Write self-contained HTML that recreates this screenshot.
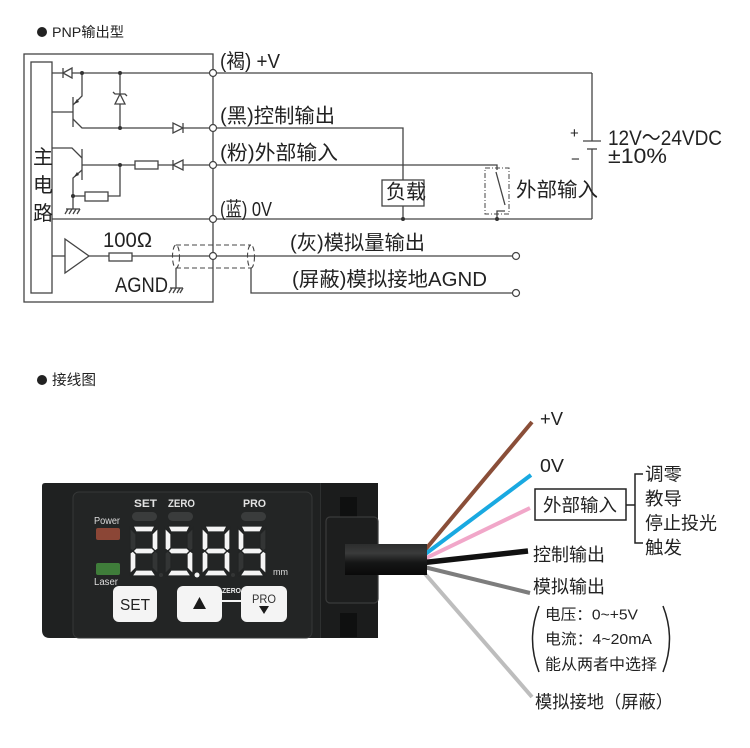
<!DOCTYPE html>
<html><head><meta charset="utf-8"><style>
html,body{margin:0;padding:0;background:#fff;}
svg{display:block;}
text{font-family:"Liberation Sans","Noto Sans CJK SC",sans-serif;}
</style></head><body>
<svg width="750" height="748" viewBox="0 0 750 748" xmlns="http://www.w3.org/2000/svg">
<defs>
<linearGradient id="cab" x1="0" y1="0" x2="0" y2="1">
<stop offset="0" stop-color="#2c2d2d"/><stop offset="0.3" stop-color="#3a3b3b"/><stop offset="0.6" stop-color="#151616"/><stop offset="1" stop-color="#0a0a0a"/>
</linearGradient>
</defs>
<rect width="750" height="748" fill="#fff"/>

<!-- Title 1 -->
<circle cx="42" cy="32" r="5" fill="#222"/>
<text x="52" y="37" font-size="14" fill="#222" textLength="72" lengthAdjust="spacingAndGlyphs">PNP输出型</text>

<!-- Schematic -->
<g stroke="#444" stroke-width="1.3" fill="none">
<rect x="24" y="54" width="189" height="248"/>
<rect x="31" y="62" width="21" height="231"/>
<!-- +V line -->
<line x1="52" y1="73" x2="592" y2="73"/>
<line x1="592" y1="73" x2="592" y2="141"/>
<line x1="592" y1="149" x2="592" y2="219"/>
<line x1="583" y1="141" x2="601" y2="141"/>
<line x1="587" y1="149" x2="597" y2="149"/>
<!-- diode on +V -->
<polygon points="63,73 72,68 72,78" fill="#fff"/>
<line x1="63" y1="68" x2="63" y2="78"/>
<!-- transistor 1 -->
<line x1="52" y1="112" x2="73" y2="112"/>
<line x1="73" y1="97" x2="73" y2="127"/>
<polyline points="73,105 82,96 82,73"/>
<polyline points="73,119 82,128 213,128"/>
<!-- zener -->
<line x1="120" y1="73" x2="120" y2="128"/>
<polygon points="120,94 115,104 125,104" fill="#fff"/>
<polyline points="113,92 115,94 125,94 127,96"/>
<!-- diode on black -->
<polygon points="173,123 173,133 183,128" fill="#fff"/>
<line x1="183" y1="123" x2="183" y2="133"/>
<!-- transistor 2 -->
<polyline points="52,148 72,148 82,158"/>
<line x1="82" y1="149" x2="82" y2="180"/>
<line x1="82" y1="165" x2="213" y2="165"/>
<polyline points="82,170 73,178 73,209"/>
<line x1="73" y1="196" x2="85" y2="196"/>
<rect x="85" y="192" width="23" height="9" fill="#fff"/>
<polyline points="108,196 120,196 120,165"/>
<rect x="135" y="161" width="23" height="8" fill="#fff"/>
<polygon points="173,165 183,160 183,170" fill="#fff"/>
<line x1="173" y1="160" x2="173" y2="170"/>
<!-- ground 1 -->
<line x1="66" y1="209" x2="80" y2="209"/>
<path d="M68,209 L65,214 M72,209 L69,214 M76,209 L73,214 M80,209 L77,214"/>
<!-- 0V -->
<line x1="52" y1="219" x2="592" y2="219"/>
<!-- load -->
<polyline points="213,128 403,128 403,180"/>
<rect x="382" y="180" width="42" height="26" fill="#fff"/>
<line x1="403" y1="206" x2="403" y2="219"/>
<!-- switch -->
<polyline points="213,165 497,165 497,170"/>
<line x1="496" y1="172" x2="505" y2="205"/>
<polyline points="505,211 497,211 497,219"/>
<rect x="485" y="168" width="24" height="46" stroke-dasharray="5,2,1,2" stroke-width="1"/>
<!-- amplifier -->
<line x1="52" y1="256" x2="65" y2="256"/>
<polygon points="65,239 65,273 89,256" fill="#fff"/>
<line x1="89" y1="256" x2="109" y2="256"/>
<rect x="109" y="253" width="23" height="8" fill="#fff"/>
<line x1="132" y1="256" x2="516" y2="256"/>
<!-- shield -->
<g stroke-dasharray="5,3" stroke-width="1.1">
<line x1="176" y1="245" x2="251" y2="245"/>
<line x1="176" y1="268" x2="251" y2="268"/>
<ellipse cx="176" cy="256.5" rx="3.5" ry="11.5"/>
<ellipse cx="251" cy="256.5" rx="3.5" ry="11.5"/>
</g>
<line x1="176" y1="268" x2="176" y2="288"/>
<line x1="170" y1="288" x2="183" y2="288"/>
<path d="M172,288 L169,293 M176,288 L173,293 M180,288 L177,293 M183,288 L180,293"/>
<polyline points="251,268 251,293 516,293"/>
</g>
<!-- dots -->
<g fill="#333">
<circle cx="82" cy="73" r="2"/><circle cx="120" cy="73" r="2"/>
<circle cx="120" cy="128" r="2"/><circle cx="120" cy="165" r="2"/>
<circle cx="73" cy="196" r="2"/><circle cx="403" cy="219" r="2"/>
<circle cx="497" cy="219" r="2"/>
<polygon points="74,104 79,102 77,99"/>
<polygon points="74,177 79,175 77,172"/>
</g>
<!-- terminals -->
<g fill="#fff" stroke="#444" stroke-width="1.2">
<circle cx="213" cy="73" r="3.5"/><circle cx="213" cy="128" r="3.5"/>
<circle cx="213" cy="165" r="3.5"/><circle cx="213" cy="219" r="3.5"/>
<circle cx="213" cy="256" r="3.5"/>
<circle cx="516" cy="256" r="3.5"/><circle cx="516" cy="293" r="3.5"/>
</g>
<!-- schematic text -->
<g fill="#222" font-size="20">
<text x="33" y="164">主</text>
<text x="33" y="192">电</text>
<text x="33" y="220">路</text>
<text x="220" y="68" textLength="60" lengthAdjust="spacingAndGlyphs">(褐) +V</text>
<text x="220" y="122.5" textLength="115" lengthAdjust="spacingAndGlyphs">(黑)控制输出</text>
<text x="220" y="159.5" textLength="118" lengthAdjust="spacingAndGlyphs">(粉)外部输入</text>
<text x="220" y="216" textLength="52" lengthAdjust="spacingAndGlyphs">(蓝) 0V</text>
<text x="290" y="249.5" textLength="135" lengthAdjust="spacingAndGlyphs">(灰)模拟量输出</text>
<text x="292" y="286" textLength="195" lengthAdjust="spacingAndGlyphs">(屏蔽)模拟接地AGND</text>
<text x="386" y="198.5" textLength="40" lengthAdjust="spacingAndGlyphs">负载</text>
<text x="516" y="196.5" textLength="82" lengthAdjust="spacingAndGlyphs">外部输入</text>
<text x="608" y="145" font-size="21" textLength="114" lengthAdjust="spacingAndGlyphs">12V～24VDC</text>
<text x="608" y="163" font-size="21" textLength="59" lengthAdjust="spacingAndGlyphs">±10%</text>
<text x="103" y="247" font-size="21" textLength="49" lengthAdjust="spacingAndGlyphs">100Ω</text>
<text x="115" y="292" font-size="21" textLength="53" lengthAdjust="spacingAndGlyphs">AGND</text>
<text x="570" y="138" font-size="15">+</text>
<text x="571" y="164" font-size="15">−</text>
</g>

<!-- Title 2 -->
<circle cx="42" cy="380" r="5" fill="#222"/>
<text x="52" y="385" font-size="14.5" fill="#222" textLength="44" lengthAdjust="spacingAndGlyphs">接线图</text>

<!-- wires -->
<g stroke-linecap="butt" fill="none">
<line x1="420" y1="556" x2="532" y2="422" stroke="#8a4e38" stroke-width="4"/>
<line x1="420" y1="558" x2="531" y2="475" stroke="#19a9e1" stroke-width="4"/>
<line x1="420" y1="561" x2="530" y2="508" stroke="#f1a7c9" stroke-width="4"/>
<line x1="420" y1="563" x2="528" y2="551" stroke="#111" stroke-width="5.5"/>
<line x1="420" y1="566" x2="530" y2="593" stroke="#7d7d7d" stroke-width="4"/>
<line x1="420" y1="568" x2="532" y2="697" stroke="#bdbdbd" stroke-width="4"/>
</g>

<!-- device body -->
<path d="M45,483 H322 V638 H50 Q42,638 42,630 V486 Q42,483 45,483 Z" fill="#1f2121"/>
<rect x="73" y="492" width="239" height="146" rx="6" fill="#232525" stroke="#363838" stroke-width="1"/>
<!-- connector housing -->
<rect x="320" y="483" width="58" height="155" fill="#1b1c1c"/>
<line x1="320.5" y1="483" x2="320.5" y2="638" stroke="#2e3030" stroke-width="1"/>
<rect x="340" y="497" width="17" height="20" fill="#0f1010"/>
<rect x="340" y="613" width="17" height="24" fill="#0f1010"/>
<rect x="326" y="517" width="52" height="86" rx="4" fill="#1d1e1e" stroke="#3a3b3b" stroke-width="1.2"/>
<!-- cable -->
<rect x="345" y="544" width="82" height="31" fill="url(#cab)"/>

<!-- top labels -->
<g fill="#e2e2e2" font-size="11" font-weight="bold">
<text x="134" y="507" textLength="23" lengthAdjust="spacingAndGlyphs">SET</text>
<text x="168" y="507" textLength="27" lengthAdjust="spacingAndGlyphs">ZERO</text>
<text x="243" y="507" textLength="23" lengthAdjust="spacingAndGlyphs">PRO</text>
</g>
<g fill="#3a3c3c">
<rect x="132" y="512" width="25" height="9" rx="4.5"/>
<rect x="168" y="512" width="25" height="9" rx="4.5"/>
<rect x="241" y="512" width="25" height="9" rx="4.5"/>
</g>
<text x="94" y="524" font-size="10" fill="#ddd" textLength="26" lengthAdjust="spacingAndGlyphs">Power</text>
<rect x="96" y="528" width="24" height="12" rx="2" fill="#8b4636"/>
<rect x="96" y="563" width="24" height="12" rx="2" fill="#3f7d3a"/>
<text x="94" y="585" font-size="10" fill="#ddd" textLength="24" lengthAdjust="spacingAndGlyphs">Laser</text>
<text x="273" y="575" font-size="9" fill="#ddd">mm</text>

<!-- 7 segment digits -->
<g stroke="#222424" stroke-width="1.3">
<!-- digit 2 -->
<g transform="translate(130,526)">
<polygon points="3,0 25,0 22,6 6,6" fill="#f4f4f4"/>
<polygon points="28,2 28,23 25,25 22,22 22,8" fill="#f4f4f4"/>
<polygon points="28,27 25,25 22,28 22,42 28,48" fill="#333535"/>
<polygon points="2,50 26,50 22,44 6,44" fill="#f4f4f4"/>
<polygon points="0,27 3,25 6,28 6,42 0,48" fill="#f4f4f4"/>
<polygon points="0,2 6,8 6,22 3,25 0,23" fill="#333535"/>
<polygon points="3,25 6,22 22,22 25,25 22,28 6,28" fill="#f4f4f4"/>
</g>
<!-- digit 5 -->
<g transform="translate(165,526)">
<polygon points="3,0 25,0 22,6 6,6" fill="#f4f4f4"/>
<polygon points="28,2 28,23 25,25 22,22 22,8" fill="#333535"/>
<polygon points="28,27 25,25 22,28 22,42 28,48" fill="#f4f4f4"/>
<polygon points="2,50 26,50 22,44 6,44" fill="#f4f4f4"/>
<polygon points="0,27 3,25 6,28 6,42 0,48" fill="#333535"/>
<polygon points="0,2 6,8 6,22 3,25 0,23" fill="#f4f4f4"/>
<polygon points="3,25 6,22 22,22 25,25 22,28 6,28" fill="#f4f4f4"/>
</g>
<!-- digit 8 -->
<g transform="translate(202,526)" fill="#f4f4f4">
<polygon points="3,0 25,0 22,6 6,6"/>
<polygon points="28,2 28,23 25,25 22,22 22,8"/>
<polygon points="28,27 25,25 22,28 22,42 28,48"/>
<polygon points="2,50 26,50 22,44 6,44"/>
<polygon points="0,27 3,25 6,28 6,42 0,48"/>
<polygon points="0,2 6,8 6,22 3,25 0,23"/>
<polygon points="3,25 6,22 22,22 25,25 22,28 6,28"/>
</g>
<!-- digit 5 -->
<g transform="translate(238,526)">
<polygon points="3,0 25,0 22,6 6,6" fill="#f4f4f4"/>
<polygon points="28,2 28,23 25,25 22,22 22,8" fill="#333535"/>
<polygon points="28,27 25,25 22,28 22,42 28,48" fill="#f4f4f4"/>
<polygon points="2,50 26,50 22,44 6,44" fill="#f4f4f4"/>
<polygon points="0,27 3,25 6,28 6,42 0,48" fill="#333535"/>
<polygon points="0,2 6,8 6,22 3,25 0,23" fill="#f4f4f4"/>
<polygon points="3,25 6,22 22,22 25,25 22,28 6,28" fill="#f4f4f4"/>
</g>
</g>
<circle cx="161" cy="575" r="2" fill="#333535"/>
<circle cx="197" cy="575" r="2.5" fill="#f4f4f4"/>
<circle cx="233" cy="575" r="2" fill="#333535"/>

<!-- buttons -->
<rect x="113" y="586" width="44" height="36" rx="6" fill="#f4f4f4"/>
<text x="120" y="610" font-size="16" fill="#222" textLength="30" lengthAdjust="spacingAndGlyphs">SET</text>
<rect x="177" y="586" width="45" height="36" rx="6" fill="#f4f4f4"/>
<polygon points="199.5,597 193,609 206,609" fill="#1a1a1a"/>
<rect x="241" y="586" width="46" height="36" rx="6" fill="#f4f4f4"/>
<text x="252" y="603" font-size="12" fill="#333" textLength="24" lengthAdjust="spacingAndGlyphs">PRO</text>
<polygon points="259,606 269,606 264,614" fill="#1a1a1a"/>
<line x1="222" y1="601" x2="241" y2="601" stroke="#f4f4f4" stroke-width="2"/>
<text x="222" y="593" font-size="7" font-weight="bold" fill="#eee" textLength="19" lengthAdjust="spacingAndGlyphs">ZERO</text>

<!-- right side labels -->
<g fill="#222">
<text x="540" y="425" font-size="18" textLength="23" lengthAdjust="spacingAndGlyphs">+V</text>
<text x="540" y="472" font-size="18" textLength="24" lengthAdjust="spacingAndGlyphs">0V</text>
<text x="543" y="511.5" font-size="18" textLength="74" lengthAdjust="spacingAndGlyphs">外部输入</text>
<text x="645" y="480.5" font-size="18" textLength="37" lengthAdjust="spacingAndGlyphs">调零</text>
<text x="645" y="505" font-size="18" textLength="37" lengthAdjust="spacingAndGlyphs">教导</text>
<text x="645" y="529.5" font-size="18" textLength="72" lengthAdjust="spacingAndGlyphs">停止投光</text>
<text x="645" y="554" font-size="18" textLength="37" lengthAdjust="spacingAndGlyphs">触发</text>
<text x="533" y="561" font-size="18" textLength="72" lengthAdjust="spacingAndGlyphs">控制输出</text>
<text x="533" y="593" font-size="18" textLength="72" lengthAdjust="spacingAndGlyphs">模拟输出</text>
<text x="545" y="619.5" font-size="15" textLength="93" lengthAdjust="spacingAndGlyphs">电压：0~+5V</text>
<text x="545" y="644" font-size="15" textLength="107" lengthAdjust="spacingAndGlyphs">电流：4~20mA</text>
<text x="545" y="669.5" font-size="15.5" textLength="112" lengthAdjust="spacingAndGlyphs">能从两者中选择</text>
<text x="535" y="708" font-size="17.5" textLength="138" lengthAdjust="spacingAndGlyphs">模拟接地（屏蔽）</text>
</g>
<g stroke="#222" stroke-width="1.5" fill="none">
<rect x="535" y="489" width="91" height="31"/>
<polyline points="626,505 635,505"/>
<polyline points="643,474 635,474 635,543 643,543"/>
<path d="M539,606 Q526,639 539,672"/>
<path d="M663,606 Q676,639 663,672"/>
</g>
</svg>
</body></html>
